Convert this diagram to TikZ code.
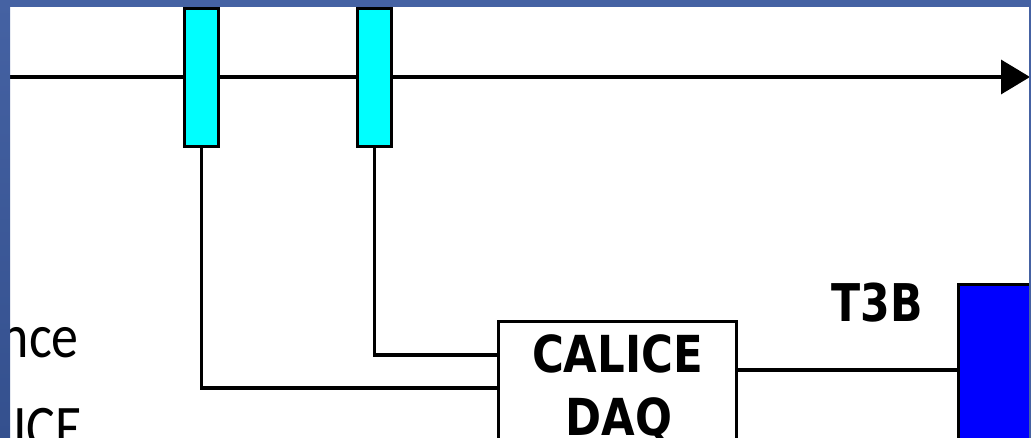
\documentclass[tikz,border=0pt]{standalone}
\usepackage{fontspec}
\usepackage{graphicx}
\usetikzlibrary{arrows.meta}
\newfontfamily\diagfont{DejaVu Sans}
\newfontfamily\slidefont{Carlito}
\definecolor{framebluetop}{HTML}{4562A3}
\definecolor{frameblueb}{HTML}{34508E}
\definecolor{cyanbox}{HTML}{00FFFF}
\definecolor{bluebox}{HTML}{0000FF}
\tikzset{
  wire/.style={line width=3.5pt, black},
  beam/.style={line width=3.5pt, black, -{Triangle[length=29pt,width=34pt]}},
  counter/.style={draw=black, line width=3.5pt, fill=cyanbox, minimum width=34pt, minimum height=138pt, inner sep=0pt},
  daqbox/.style={draw=black, line width=3.5pt, fill=white, minimum width=238pt, minimum height=157pt, inner sep=0pt},
  tbbox/.style={draw=black, line width=3.5pt, fill=bluebox, minimum width=150pt, minimum height=200pt, inner sep=0pt},
  lbl/.style={inner sep=0pt, font=\diagfont\bfseries\fontsize{51}{51}\selectfont},
  slide/.style={inner sep=0pt, font=\slidefont\fontsize{62}{62}\selectfont}
}
\begin{document}
\begin{tikzpicture}[x=1pt,y=-1pt]
\useasboundingbox (0,0) rectangle (1031,438);
\fill[white] (0,0) rectangle (1031,438);
% left slide text
\node[slide, anchor=base east] (txtA) at (79,357) {\scalebox{0.87}[1]{nce}};
\node[slide, anchor=base east] (txtB) at (82,448) {\scalebox{0.87}[1]{ICE}};
% beam
\coordinate (bstart) at (10,77);
\coordinate (bend) at (1030,77);
\draw[beam] (bstart) -- (bend);
% counters
\node[counter] (c1) at (201.5,77.5) {};
\node[counter] (c2) at (374.5,77.5) {};
% DAQ
\node[daqbox] (daq) at (617.5,400) {};
\node[lbl, anchor=base] (daq1) at (617.5,372) {\scalebox{0.852}[1]{CALICE}};
\node[lbl, anchor=base] (daq2) at (619,435) {\scalebox{0.852}[1]{DAQ}};
% T3B
\node[tbbox] (t3b) at (1033.5,384.5) {};
\node[lbl, anchor=base, font=\diagfont\bfseries\fontsize{52}{52}\selectfont] (t3blbl) at (877.5,322) {\scalebox{0.82}[1]{T3B}};
% wires
\coordinate (in1) at (daq.west |- 0,388);
\coordinate (in2) at (daq.west |- 0,355);
\coordinate (out1) at (daq.east |- 0,370);
\draw[wire] (c1.south) |- (in1);
\draw[wire] (c2.south) |- (in2);
\draw[wire] (out1) -- (t3b.west |- out1);
% slide frame
\fill[framebluetop] (0,0) rectangle (1031,7);
\shade[top color=framebluetop, bottom color=frameblueb] (0,0) rectangle (10,438);
\fill[framebluetop] (1029,0) rectangle (1031,438);
\end{tikzpicture}
\end{document}
